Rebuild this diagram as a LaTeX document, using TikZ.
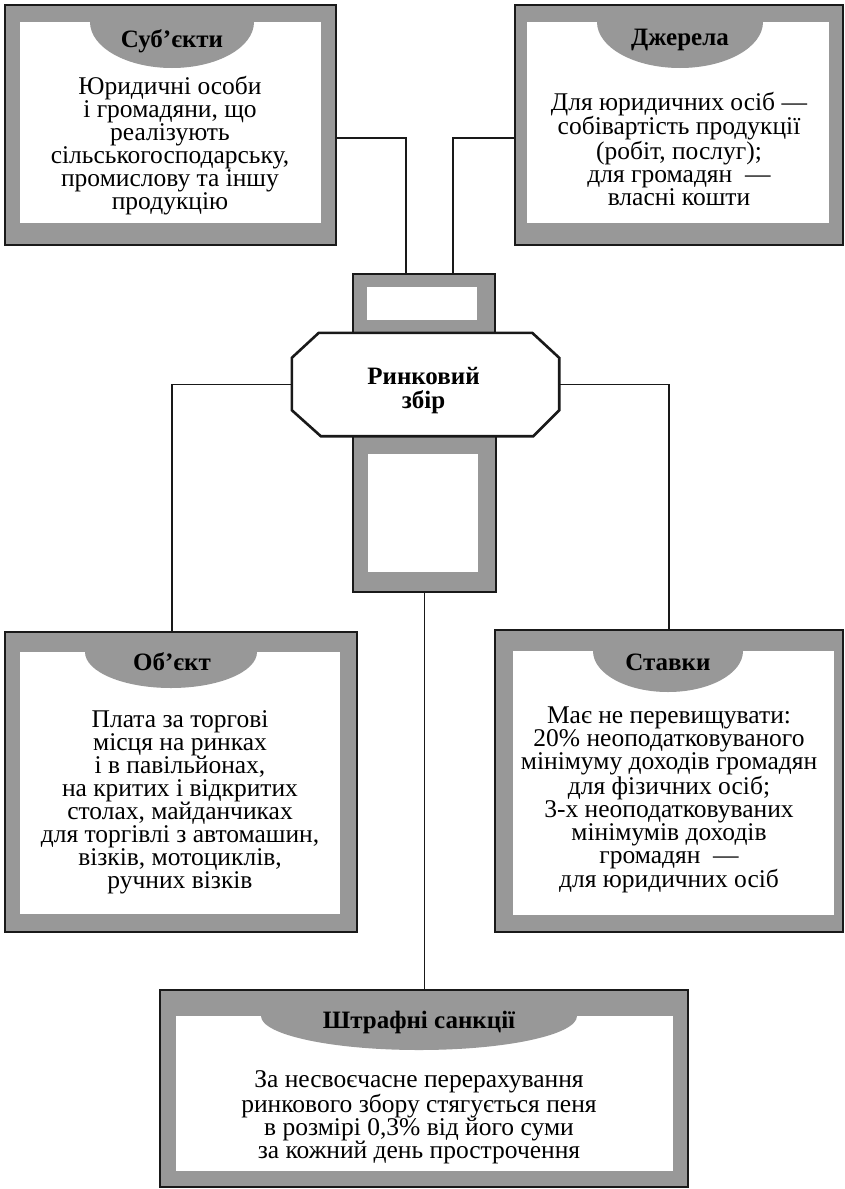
\documentclass[tikz,border=0pt]{standalone}
\usepackage{fontspec}
\setmainfont{Liberation Serif}
\usetikzlibrary{positioning}
\definecolor{framegray}{RGB}{152,152,152}

\begin{document}
\begin{tikzpicture}[
   x=1pt,y=-1pt,
   every node/.style={font=\fontsize{25.5}{23}\selectfont},
   frame/.style={draw=black!90,fill=framegray,line width=1.2pt,inner sep=0pt},
   window/.style={fill=white},
   headtab/.style={fill=framegray},
   heading/.style={anchor=base,font=\fontsize{25}{22}\selectfont\bfseries},
   body/.style={align=center,inner sep=0pt},
   hub/.style={inner sep=0pt,minimum width=267pt,minimum height=103pt},
   hubline/.style={draw=black!90,fill=white,line width=2.6pt,line join=miter},
   hubtext/.style={align=center,inner sep=0pt,font=\fontsize{25}{23.5}\selectfont\bfseries},
   wire/.style={draw=black!90,line width=1.3pt}
 ]
  \useasboundingbox (0,0) rectangle (845,1189);

  % Outer frames first, so the wires can end on their borders.
  \node[frame,minimum width=331pt,minimum height=240pt] (subj) at (170.5,125) {};
  \node[frame,minimum width=328pt,minimum height=240pt] (src) at (679,125) {};
  \node[frame,minimum width=352pt,minimum height=300pt] (obj) at (181,782) {};
  \node[frame,minimum width=348pt,minimum height=302pt] (rates) at (669,781) {};
  \node[frame,minimum width=528pt,minimum height=197pt] (fine) at (424,1088.5) {};
  \node[frame,minimum width=142pt,minimum height=66pt] (topwin) at (424,307) {};
  \node[frame,minimum width=143pt,minimum height=162pt] (botwin) at (424.5,511) {};

  % The connectors.
  \draw[wire] ([yshift=-13pt]subj.east) -| ([xshift=-18pt]topwin.north);
  \draw[wire] ([yshift=-13pt]src.west) -| ([xshift=29pt]topwin.north);
  \draw[wire] (botwin.south) -- (botwin.south |- fine.north);

  % White windows of the two small frames.
  \path[window] (367,287) rectangle (477,320);
  \path[window] (368,454) rectangle (478,572);

  % The central octagon sits over both small frames.
  \node[hub] (market) at (425.5,384.5) {};
  \path[hubline] ([xshift=27pt]market.north west) -- ([xshift=-27pt]market.north east)
    -- ([yshift=-25pt]market.north east) -- ([yshift=26pt]market.south east)
    -- ([xshift=-26pt]market.south east) -- ([xshift=29pt]market.south west)
    -- ([yshift=26pt]market.south west) -- ([yshift=-25pt]market.north west) -- cycle;
  \node[hubtext] (markettext) at ([xshift=-2pt,yshift=-6pt]market.center) {Ринковий\\збір};
  \draw[wire] (market.west) -| ([xshift=-9pt]obj.north);
  \draw[wire] (market.east) -| (rates.north);

  % Subjects.
  \path[window] (20,22) rectangle (321,223);
  \begin{scope}
    \clip (20,22) rectangle (321,223);
    \path[headtab] (172,22) ellipse[x radius=82pt,y radius=46pt];
  \end{scope}
  \node[heading] (subjhead) at (172,47) {Суб’єкти};
  \node[body] (subjtext) at (170,146) {Юридичні особи\\ і громадяни, що\\ реалізують\\
    сільськогосподарську,\\ промислову та іншу\\ продукцію};

  % Sources.
  \path[window] (527,22) rectangle (829,223);
  \begin{scope}
    \clip (527,22) rectangle (829,223);
    \path[headtab] (680,22) ellipse[x radius=83pt,y radius=46pt];
  \end{scope}
  \node[heading] (srchead) at (680,45) {Джерела};
  \node[body] (srctext) at (679,149) {Для юридичних осіб —\\ собівартість продукції\\
    (робіт, послуг);\\ для громадян~ —\\ власні кошти};

  % Object.
  \path[window] (20,652) rectangle (340,914);
  \begin{scope}
    \clip (20,652) rectangle (340,914);
    \path[headtab] (171,652) ellipse[x radius=86pt,y radius=36pt];
  \end{scope}
  \node[heading] (objhead) at (172,670) {Об’єкт};
  \node[body] (objtext) at (180,802) {Плата за торгові\\ місця на ринках\\
    і в павільйонах,\\ на критих і відкритих\\ столах, майданчиках\\
    для торгівлі з автомашин,\\ візків, мотоциклів,\\ ручних візків};

  % Rates.
  \path[window] (513,651) rectangle (834,915);
  \begin{scope}
    \clip (513,651) rectangle (834,915);
    \path[headtab] (668,651) ellipse[x radius=75pt,y radius=41pt];
  \end{scope}
  \node[heading] (rateshead) at (668,670) {Ставки};
  \node[body] (ratestext) at (669,800) {Має не перевищувати:\\ 20\% неоподатковуваного\\
    мінімуму доходів громадян\\ для фізичних осіб;\\ 3-х неоподатковуваних\\
    мінімумів доходів\\ громадян~ —\\ для юридичних осіб};

  % Penalties.
  \path[window] (176,1016) rectangle (673,1171);
  \begin{scope}
    \clip (176,1016) rectangle (673,1171);
    \path[headtab] (419,1016) ellipse[x radius=158pt,y radius=34pt];
  \end{scope}
  \node[heading] (finehead) at (419,1028) {Штрафні санкції};
  \node[body] (finetext) at (419,1117) {За несвоєчасне перерахування\\
    ринкового збору стягується пеня\\ в розмірі 0,3\% від його суми\\
    за кожний день прострочення};
\end{tikzpicture}
\end{document}
